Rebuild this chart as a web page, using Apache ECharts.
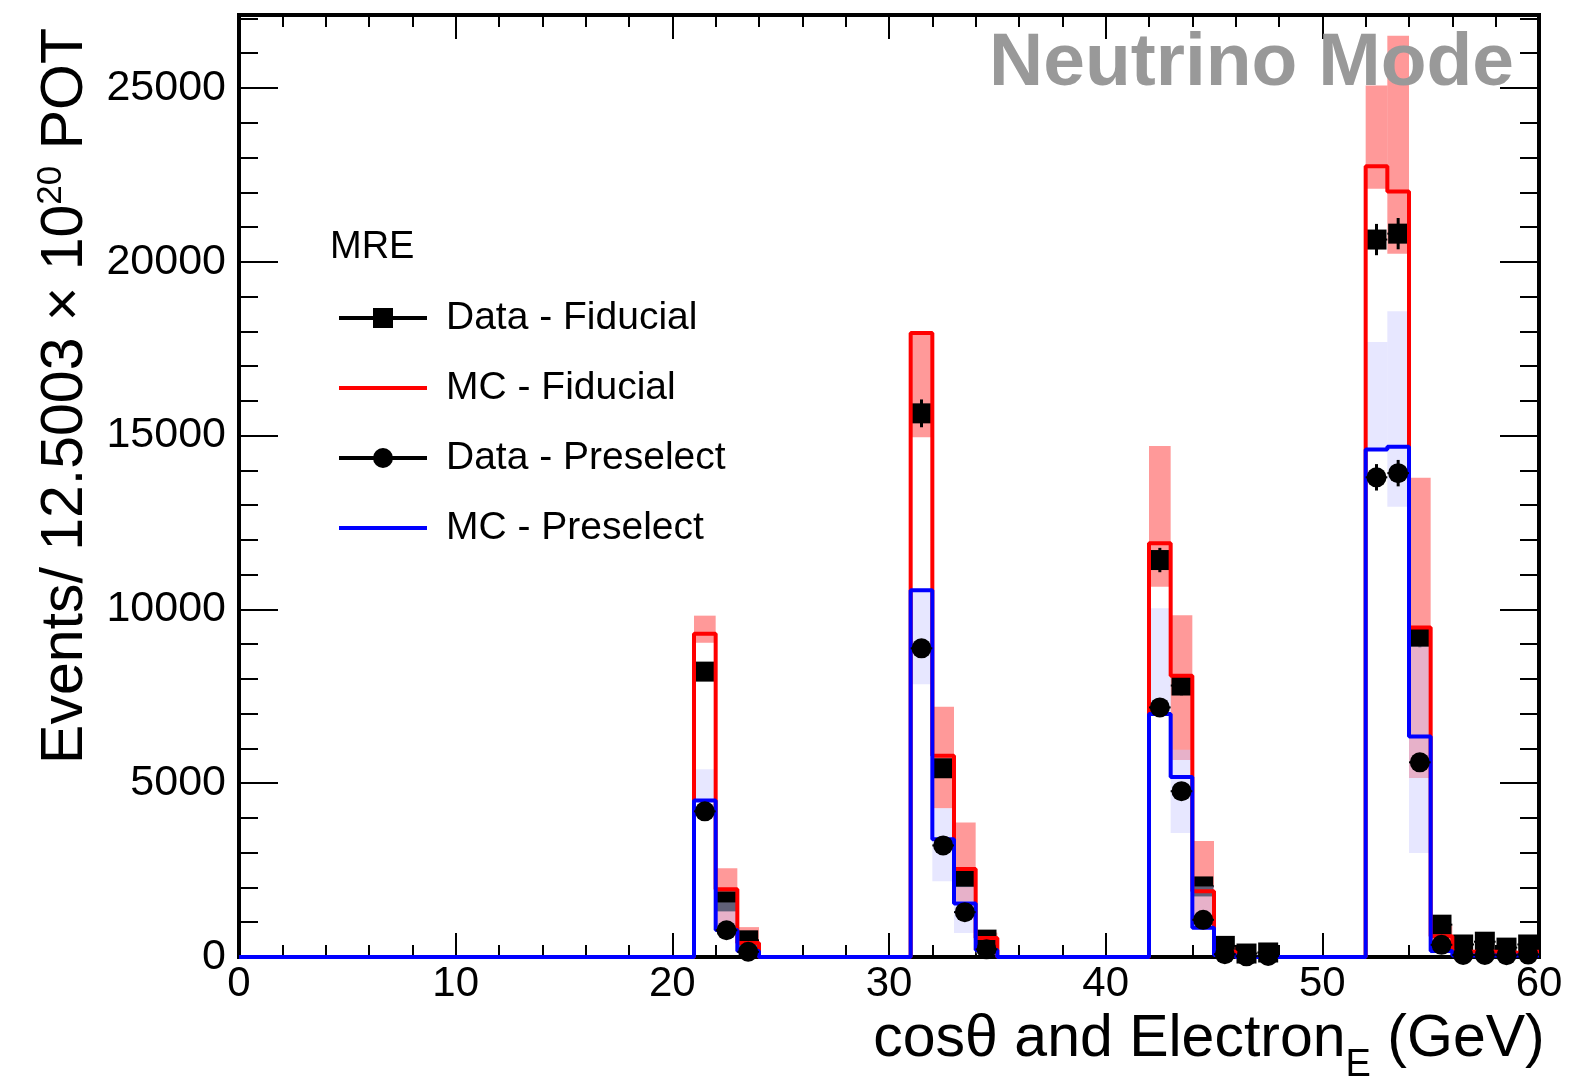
<!DOCTYPE html>
<html>
<head>
<meta charset="utf-8">
<title>MRE Neutrino Mode</title>
<script src="https://cdn.jsdelivr.net/npm/echarts@6.0.0/dist/echarts.min.js"></script>
<style>
  html, body { margin: 0; padding: 0; background: #ffffff; }
  #chart { width: 1577px; height: 1081px; }
</style>
</head>
<body>
<div id="chart"></div>
<script>
// Binning: 60 bins of width 1 from 0 to 60
const binLow = 0;
const binWidth = 1;

// MC histograms, one value per bin (bins 0..59)
const mcFiducial = [
  0, 0, 0, 0, 0, 0, 0, 0, 0, 0,
  0, 0, 0, 0, 0, 0, 0, 0, 0, 0,
  0, 9300, 1950, 400, 0, 0, 0, 0, 0, 0,
  0, 17950, 5790, 2530, 550, 0, 0, 0, 0, 0,
  0, 0, 11900, 8090, 1890, 150, 0, 0, 0, 0,
  0, 0, 22750, 22020, 9480, 600, 150, 150, 120, 150
];
const mcPreselect = [
  0, 0, 0, 0, 0, 0, 0, 0, 0, 0,
  0, 0, 0, 0, 0, 0, 0, 0, 0, 0,
  0, 4500, 780, 170, 0, 0, 0, 0, 0, 0,
  0, 10550, 3390, 1540, 200, 0, 0, 0, 0, 0,
  0, 0, 6990, 5180, 840, 60, 0, 0, 0, 0,
  0, 0, 14600, 14680, 6340, 170, 40, 40, 40, 40
];

// MC uncertainty bands (low / high edge per listed bin)
const bandBins     = [21, 22, 23, 31, 32, 33, 34, 42, 43, 44, 45, 52, 53, 54, 55];
const fidBandLow   = [9040, 880, 250, 14950, 4280, 1600, 300, 10650, 5670, 1080, 50, 22100, 20230, 5150, 400];
const fidBandHigh  = [9820, 2550, 860, 17950, 7200, 3870, 700, 14700, 9830, 3340, 300, 25070, 26500, 13790, 900];
const preBandLow   = [4500, 780, 150, 7850, 2180, 690, 100, 6990, 3570, 840, 30, 14600, 12950, 2990, 100];
const preBandHigh  = [5400, 1570, 450, 10550, 4280, 2030, 300, 10030, 5960, 2030, 120, 17690, 18580, 8930, 400];

// Data points (non-empty bins only)
const dataBins          = [21, 22, 23, 31, 32, 33, 34, 42, 43, 44, 45, 46, 47, 52, 53, 54, 55, 56, 57, 58, 59];
const dataFiducial      = [8210, 1600, 480, 15640, 5430, 2300, 500, 11420, 7810, 2030, 320, 100, 130, 20640, 20810, 9210, 930, 360, 440, 270, 360];
const dataFiducialErr   = [250, 120, 80, 400, 200, 130, 60, 350, 280, 130, 50, 30, 30, 450, 450, 300, 100, 60, 60, 60, 60];
const dataPreselect     = [4190, 770, 150, 8880, 3210, 1290, 220, 7180, 4770, 1070, 80, 20, 30, 13800, 13920, 5600, 350, 60, 60, 50, 70];
const dataPreselectErr  = [150, 60, 30, 250, 150, 90, 40, 220, 180, 80, 20, 10, 10, 380, 380, 200, 50, 20, 20, 20, 20];

// Axis ranges and tick steps
const xMin = 0, xMax = 60, yMin = 0, yMax = 27100;
const xMajorStep = 10, xMinorStep = 2;
const yMajorStep = 5000, yMinorStep = 1000;

const FONT = "'Liberation Sans', Arial, Helvetica, sans-serif";
const GRID_BOX = { left: 239, right: 38, top: 15, bottom: 124 };

function stepPoints(values) {
  const pts = [];
  values.forEach((v, i) => {
    const lo = binLow + i * binWidth;
    pts.push([lo, v], [lo + binWidth, v]);
  });
  return pts;
}

function bandSeries(name, lows, highs, color, z) {
  return {
    type: 'custom',
    name: name,
    z: z,
    silent: true,
    clip: true,
    encode: { x: 0, y: [1, 2] },
    data: bandBins.map((b, i) => [b, lows[i], highs[i]]),
    renderItem: function (params, api) {
      const b = api.value(0);
      const pTop = api.coord([b, api.value(2)]);
      const pBot = api.coord([b + binWidth, api.value(1)]);
      return {
        type: 'rect',
        shape: { x: pTop[0], y: pTop[1], width: pBot[0] - pTop[0], height: pBot[1] - pTop[1] },
        style: { fill: color }
      };
    }
  };
}

function errorBarSeries(name, vals, errs, z) {
  return {
    type: 'custom',
    name: name,
    z: z,
    silent: true,
    encode: { x: 0, y: 1 },
    data: dataBins.map((b, i) => [b, vals[i], errs[i]]),
    renderItem: function (params, api) {
      const b = api.value(0), v = api.value(1), e = api.value(2);
      const top = api.coord([b + binWidth / 2, v + e]);
      const bot = api.coord([b + binWidth / 2, v - e]);
      const left = api.coord([b, v]);
      const right = api.coord([b + binWidth, v]);
      return {
        type: 'group',
        children: [
          { type: 'line', shape: { x1: top[0], y1: top[1], x2: bot[0], y2: bot[1] }, style: { stroke: '#000', lineWidth: 3 } },
          { type: 'line', shape: { x1: left[0], y1: left[1], x2: right[0], y2: right[1] }, style: { stroke: '#000', lineWidth: 2 } }
        ]
      };
    }
  };
}

function pointSeries(name, vals, symbol, z) {
  return {
    type: 'scatter',
    name: name,
    z: z,
    symbol: symbol,
    symbolSize: 20,
    itemStyle: { color: '#000', opacity: 1 },
    data: dataBins.map((b, i) => [b + binWidth / 2, vals[i]])
  };
}

function histSeries(name, values, color, z) {
  return {
    type: 'line',
    name: name,
    z: z,
    symbol: 'none',
    showSymbol: false,
    lineStyle: { color: color, width: 4 },
    itemStyle: { color: color },
    data: stepPoints(values)
  };
}

// Axis carrying only inward ticks (frame ticks on all four sides)
function tickAxis(gridIndex, position, min, max, step, len, extra) {
  return Object.assign({
    type: 'value',
    gridIndex: gridIndex,
    position: position,
    min: min,
    max: max,
    interval: step,
    axisLine: { show: false, onZero: false },
    axisTick: { show: true, inside: true, length: len, lineStyle: { color: '#000', width: 2 } },
    axisLabel: { show: false },
    splitLine: { show: false }
  }, extra || {});
}

const iconSquare = 'path://M0,8L88,8L88,12L0,12Z M34,0L54,0L54,20L34,20Z';
const iconCircle = 'path://M0,8L88,8L88,12L0,12Z M54,10A10,10,0,1,1,34,10A10,10,0,1,1,54,10Z';
const iconLine   = 'path://M0,8L88,8L88,12L0,12Z M0,0L0.01,0L0,0.01Z M0,20L0.01,20L0,19.99Z';

const chart = echarts.init(document.getElementById('chart'), null, { renderer: 'canvas' });

chart.setOption({
  animation: false,
  backgroundColor: '#ffffff',
  textStyle: { fontFamily: FONT },
  title: [
    {
      text: 'MRE', left: 330, top: 229, padding: 0,
      textStyle: { fontSize: 38, fontWeight: 'normal', color: '#000', fontFamily: FONT }
    },
    {
      text: 'Neutrino Mode', right: 63, top: 27, padding: 0,
      textStyle: { fontSize: 75, fontWeight: 'bold', color: '#999999', fontFamily: FONT }
    }
  ],
  legend: {
    orient: 'vertical',
    left: 339,
    top: 298,
    padding: 0,
    itemWidth: 88,
    itemHeight: 20,
    itemGap: 30,
    selectedMode: false,
    textStyle: { fontSize: 39, color: '#000', fontFamily: FONT, lineHeight: 40, padding: [0, 0, 0, 14] },
    data: [
      { name: 'Data - Fiducial', icon: iconSquare },
      { name: 'MC - Fiducial', icon: iconLine },
      { name: 'Data - Preselect', icon: iconCircle },
      { name: 'MC - Preselect', icon: iconLine }
    ]
  },
  grid: [
    Object.assign({ show: true, borderColor: '#000', borderWidth: 4, backgroundColor: 'transparent', containLabel: false, outerBoundsMode: 'none' }, GRID_BOX),
    Object.assign({ show: false, containLabel: false, outerBoundsMode: 'none' }, GRID_BOX),
    Object.assign({ show: false, containLabel: false, outerBoundsMode: 'none' }, GRID_BOX),
    Object.assign({ show: false, containLabel: false, outerBoundsMode: 'none' }, GRID_BOX)
  ],
  xAxis: [
    tickAxis(0, 'bottom', xMin, xMax, xMajorStep, 24, {
      axisLabel: { show: true, fontSize: 42, color: '#000', margin: 6, fontFamily: FONT },
      name: 'cosθ and Electron{sub|E} (GeV)',
      nameLocation: 'middle',
      nameGap: 27,
      nameTextStyle: {
        fontSize: 59, color: '#000', fontFamily: FONT,
        padding: [0, 0, 0, 640],
        rich: { sub: { fontSize: 38, fontFamily: FONT, color: '#000', padding: [52, 0, 0, 0] } }
      }
    }),
    tickAxis(1, 'bottom', xMin, xMax, xMinorStep, 12),
    tickAxis(2, 'top', xMin, xMax, xMajorStep, 24),
    tickAxis(3, 'top', xMin, xMax, xMinorStep, 12)
  ],
  yAxis: [
    tickAxis(0, 'left', yMin, yMax, yMajorStep, 39, {
      axisLabel: {
        show: true, fontSize: 43, color: '#000', margin: 13, fontFamily: FONT, showMaxLabel: false,
        formatter: function (v) { return String(v); }
      },
      name: 'Events/ 12.5003 × 10{sup|20} POT',
      nameLocation: 'middle',
      nameRotate: 90,
      nameGap: 96,
      nameTextStyle: {
        fontSize: 59, color: '#000', fontFamily: FONT,
        padding: [0, 0, 0, 180],
        rich: { sup: { fontSize: 35, fontFamily: FONT, color: '#000', padding: [0, 0, 30, 0] } }
      }
    }),
    tickAxis(1, 'left', yMin, yMax, yMinorStep, 19),
    tickAxis(2, 'right', yMin, yMax, yMajorStep, 39),
    tickAxis(3, 'right', yMin, yMax, yMinorStep, 19)
  ],
  series: [
    bandSeries('MC - Fiducial band', fidBandLow, fidBandHigh, 'rgba(255,0,0,0.4)', 1),
    errorBarSeries('Data - Fiducial errors', dataFiducial, dataFiducialErr, 2),
    pointSeries('Data - Fiducial', dataFiducial, 'rect', 3),
    bandSeries('MC - Preselect band', preBandLow, preBandHigh, 'rgba(205,205,255,0.47)', 4),
    histSeries('MC - Fiducial', mcFiducial, '#ff0000', 5),
    histSeries('MC - Preselect', mcPreselect, '#0000ff', 6),
    errorBarSeries('Data - Preselect errors', dataPreselect, dataPreselectErr, 7),
    pointSeries('Data - Preselect', dataPreselect, 'circle', 8)
  ]
});
</script>
</body>
</html>
